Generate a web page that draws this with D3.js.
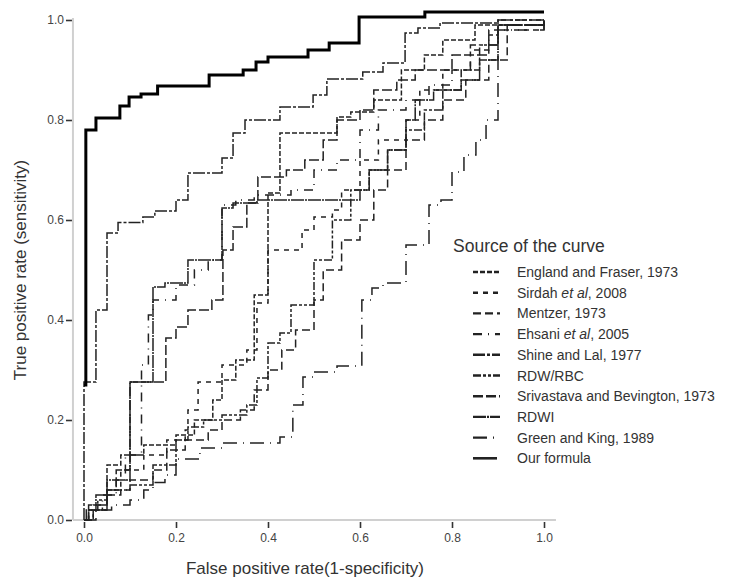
<!DOCTYPE html>
<html><head><meta charset="utf-8">
<script src="https://cdn.jsdelivr.net/npm/d3@7"></script>
<style>
body{margin:0;background:#fff;}
text{font-family:"Liberation Sans",Arial,sans-serif;}
</style></head>
<body><svg id="c" width="753" height="583"></svg>
<script>
const seriesNames = ["England and Fraser, 1973","Sirdah et al, 2008","Mentzer, 1973","Ehsani et al, 2005","Shine and Lal, 1977","RDW/RBC","Srivastava and Bevington, 1973","RDWI","Green and King, 1989","Our formula"];
const xTicks = [0,0.2,0.4,0.6,0.8,1.0];
const yTicks = [0,0.2,0.4,0.6,0.8,1.0];

const england = [[0,0],[0.01,0.02],[0.05,0.11],[0.08,0.13],[0.13,0.15],[0.2,0.17],[0.24,0.2],[0.28,0.24],[0.3,0.28],[0.33,0.32],[0.37,0.45],[0.4,0.654],[0.426,0.774],[0.55,0.806],[0.58,0.816],[0.63,0.84],[0.69,0.9],[0.74,0.93],[0.78,0.96],[0.85,0.99],[0.9,1],[1,1]];
const sirdah = [[0,0],[0.02,0.02],[0.05,0.06],[0.08,0.1],[0.13,0.13],[0.18,0.16],[0.22,0.18],[0.226,0.22],[0.248,0.276],[0.3,0.31],[0.354,0.34],[0.376,0.434],[0.4,0.54],[0.474,0.58],[0.5,0.606],[0.54,0.62],[0.56,0.66],[0.6,0.72],[0.64,0.76],[0.7,0.8],[0.73,0.86],[0.78,0.9],[0.84,0.94],[0.88,0.98],[1,1]];
const mentzer = [[0,0],[0.02,0.03],[0.05,0.05],[0.08,0.06],[0.1,0.08],[0.15,0.1],[0.18,0.14],[0.22,0.16],[0.27,0.18],[0.3,0.2],[0.34,0.22],[0.37,0.26],[0.4,0.3],[0.43,0.34],[0.46,0.38],[0.5,0.44],[0.52,0.5],[0.56,0.56],[0.6,0.6],[0.63,0.66],[0.66,0.7],[0.7,0.76],[0.74,0.8],[0.78,0.84],[0.83,0.88],[0.88,0.92],[0.92,0.99],[1,1]];
const ehsani = [[0,0],[0.01,0.02],[0.04,0.05],[0.07,0.08],[0.09,0.13],[0.125,0.31],[0.14,0.41],[0.15,0.44],[0.2,0.47],[0.24,0.5],[0.27,0.52],[0.3,0.63],[0.33,0.64],[0.37,0.65],[0.45,0.66],[0.5,0.7],[0.55,0.72],[0.6,0.78],[0.64,0.82],[0.7,0.84],[0.75,0.87],[0.8,0.9],[0.84,0.95],[0.9,0.98],[1,1]];
const shine = [[0,0],[0,0.276],[0.026,0.42],[0.05,0.574],[0.074,0.595],[0.128,0.606],[0.154,0.618],[0.2,0.64],[0.226,0.694],[0.3,0.724],[0.324,0.774],[0.35,0.8],[0.426,0.826],[0.498,0.85],[0.528,0.882],[0.606,0.896],[0.65,0.914],[0.698,0.974],[0.726,0.984],[0.774,0.994],[0.9,1],[1,1]];
const rdwrbc = [[0,0],[0.01,0.02],[0.03,0.04],[0.05,0.06],[0.1,0.07],[0.15,0.11],[0.2,0.16],[0.226,0.186],[0.26,0.2],[0.3,0.21],[0.354,0.23],[0.376,0.284],[0.4,0.354],[0.426,0.374],[0.45,0.43],[0.5,0.52],[0.54,0.6],[0.58,0.66],[0.62,0.7],[0.66,0.74],[0.7,0.78],[0.74,0.82],[0.78,0.86],[0.82,0.9],[0.86,0.95],[0.9,0.99],[1,1]];
const srivastava = [[0,0],[0.01,0.03],[0.05,0.06],[0.07,0.1],[0.1,0.276],[0.178,0.364],[0.2,0.386],[0.226,0.42],[0.278,0.44],[0.302,0.54],[0.324,0.586],[0.354,0.634],[0.378,0.686],[0.44,0.7],[0.48,0.72],[0.52,0.76],[0.55,0.8],[0.6,0.82],[0.63,0.86],[0.68,0.88],[0.72,0.9],[0.8,0.93],[0.88,0.97],[0.9,0.99],[1,1]];
const rdwi = [[0,0],[0.005,0.02],[0.026,0.05],[0.05,0.08],[0.1,0.276],[0.15,0.466],[0.176,0.474],[0.226,0.52],[0.3,0.624],[0.324,0.634],[0.376,0.64],[0.6,0.66],[0.62,0.7],[0.66,0.74],[0.7,0.8],[0.72,0.84],[0.76,0.86],[0.82,0.88],[0.86,0.92],[0.9,0.99],[1,1]];
const greenKing = [[0,0],[0.026,0.02],[0.06,0.03],[0.1,0.04],[0.13,0.06],[0.15,0.075],[0.176,0.09],[0.2,0.122],[0.252,0.144],[0.3,0.154],[0.426,0.166],[0.454,0.23],[0.476,0.286],[0.5,0.296],[0.55,0.308],[0.604,0.44],[0.626,0.464],[0.65,0.474],[0.7,0.55],[0.75,0.63],[0.776,0.64],[0.8,0.696],[0.826,0.73],[0.852,0.76],[0.874,0.8],[0.9,0.99],[1,1]];
const formula = [[0,0.27],[0.004,0.78],[0.026,0.804],[0.078,0.828],[0.098,0.846],[0.124,0.852],[0.16,0.868],[0.272,0.89],[0.346,0.9],[0.374,0.916],[0.4,0.926],[0.487,0.94],[0.533,0.954],[0.598,1.006],[0.741,1.016],[1,1.016]];

const seriesData = [england,sirdah,mentzer,ehsani,shine,rdwrbc,srivastava,rdwi,greenKing,formula];
const dashes = ["5,2","5,5","8,4","9,6,1,6","12,2,3,2","8,2,3,2,3,2","10,3","13,1,2,1","14,6,1,6",null];
const widths = [1.5,1.5,1.5,1.5,1.5,1.5,1.5,1.5,1.5,3];

const svg = d3.select("#c");
const x = d3.scaleLinear().domain([0,1]).range([84,544]);
const y = d3.scaleLinear().domain([0,1]).range([520,20]);

svg.append("line").attr("x1",x(-0.024)).attr("x2",x(1.026)).attr("y1",y(0)).attr("y2",y(0)).attr("stroke","#d0d0d0").attr("stroke-width",2);
svg.append("line").attr("x1",x(-0.024)).attr("x2",x(-0.024)).attr("y1",y(0)).attr("y2",y(1.004)).attr("stroke","#d0d0d0").attr("stroke-width",2);

const xAxis = svg.append("g").attr("transform",`translate(0,${y(0)+2})`)
  .call(d3.axisBottom(x).tickValues(xTicks).tickFormat(d3.format(".1f")).tickSize(6).tickPadding(5));
xAxis.select(".domain").remove();
const yAxis = svg.append("g").attr("transform",`translate(${x(-0.024)-1},0)`)
  .call(d3.axisLeft(y).tickValues(yTicks).tickFormat(d3.format(".1f")).tickSize(6).tickPadding(2));
yAxis.select(".domain").remove();
svg.selectAll(".tick line").attr("stroke","#333").attr("stroke-width",1.6);
svg.selectAll(".tick text").attr("fill","#444").style("font-size","12px").style("font-family","Liberation Sans, Arial, sans-serif");

const line = d3.line().x(d=>x(d[0])).y(d=>y(d[1])).curve(d3.curveStepAfter);
svg.append("g").selectAll("path").data(seriesData).join("path")
  .attr("d",line).attr("fill","none")
  .attr("stroke",(d,i)=> i===9 ? "#000" : "#222")
  .attr("stroke-width",(d,i)=>widths[i])
  .attr("stroke-dasharray",(d,i)=>dashes[i]);

svg.append("text").attr("x",(x(0)+x(1))/2-9).attr("y",574).attr("text-anchor","middle")
  .attr("fill","#333").style("font-size","17px").text("False positive rate(1-specificity)");
svg.append("text").attr("transform",`translate(26,${(y(0)+y(1))/2}) rotate(-90)`).attr("text-anchor","middle")
  .attr("fill","#333").style("font-size","17px").text("True positive rate (sensitivity)");

const lg = svg.append("g");
lg.append("text").attr("x",453).attr("y",252).attr("fill","#333").style("font-size","17.5px").text("Source of the curve");
const rowY = i => 272 + i*20.7;
const items = lg.selectAll("g.item").data(seriesNames).join("g").attr("class","item");
items.append("line").attr("x1",473).attr("x2",(d,i)=> i===9?497:500)
  .attr("y1",(d,i)=>rowY(i)).attr("y2",(d,i)=>rowY(i))
  .attr("stroke","#222").attr("stroke-width",(d,i)=> i===9?2.6:2.4)
  .attr("stroke-dasharray",(d,i)=>dashes[i]);
const tx = items.append("text").attr("x",517).attr("y",(d,i)=>rowY(i)+5).attr("fill","#333").style("font-size","14px");
tx.each(function(d){
  const t = d3.select(this);
  const m = d.match(/^(.*?)(et al)(.*)$/);
  if(m){ t.append("tspan").text(m[1]); t.append("tspan").style("font-style","italic").text(m[2]); t.append("tspan").text(m[3]); }
  else t.text(d);
});
</script></body></html>
